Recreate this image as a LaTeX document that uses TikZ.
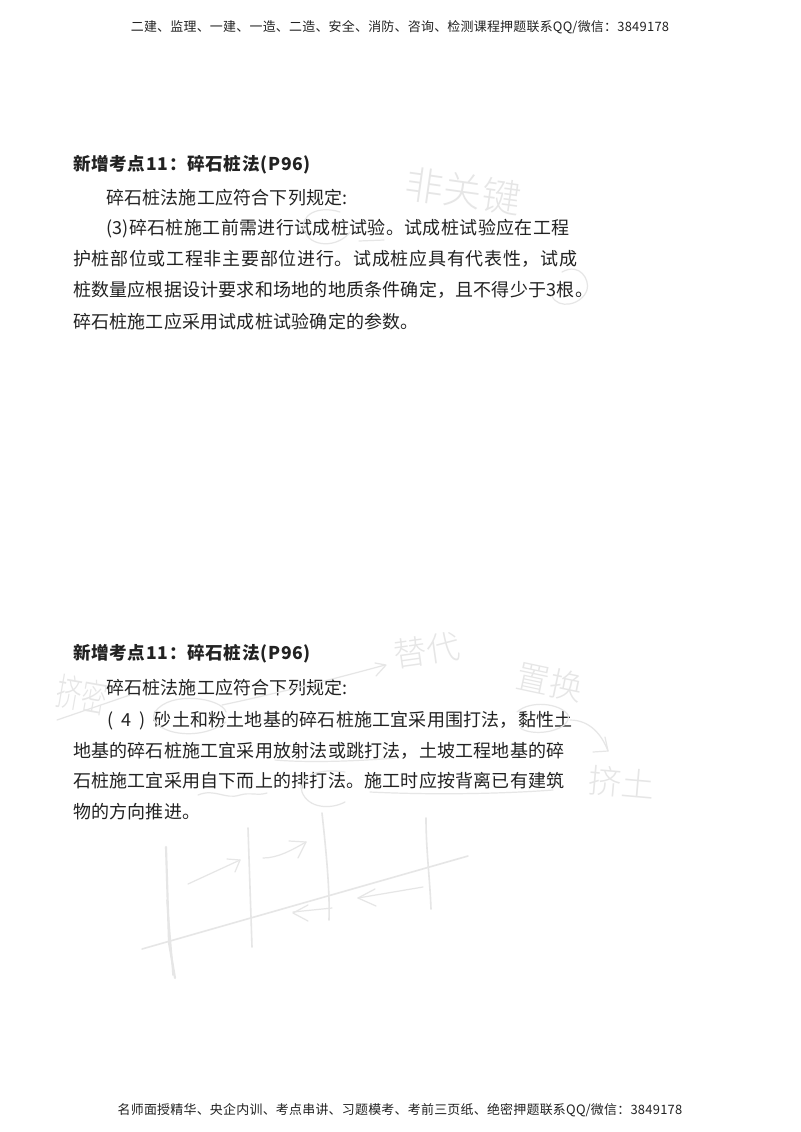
\documentclass[tikz,border=0pt]{standalone}
\usepackage{fontspec}
\setmainfont{Noto Sans CJK SC}
\newfontfamily\bodyfont[LetterSpace=1.2]{Noto Sans CJK SC}
\newfontfamily\midfont[LetterSpace=2]{Noto Sans CJK SC}
\newfontfamily\widefont[LetterSpace=3.9]{Noto Sans CJK SC}
\newfontfamily\headfont[LetterSpace=4]{Noto Sans CJK SC}
\newfontfamily\stripfont[LetterSpace=2]{Noto Sans CJK SC}
\newfontfamily\handfont{Noto Sans CJK SC Light}
\definecolor{ink}{HTML}{222222}
\definecolor{pale}{HTML}{E6E6E6}
\tikzset{
  x=0.75pt,y=-0.75pt,
  line/.style={anchor=base west,inner sep=0pt,outer sep=0pt,text=ink,font=\bodyfont\fontsize{13.5pt}{15pt}\selectfont},
  midline/.style={anchor=base west,inner sep=0pt,outer sep=0pt,text=ink,font=\midfont\fontsize{13.5pt}{15pt}\selectfont},
  wideline/.style={anchor=base west,inner sep=0pt,outer sep=0pt,text=ink,font=\widefont\fontsize{13.5pt}{15pt}\selectfont},
  heading/.style={anchor=base west,inner sep=0pt,outer sep=0pt,text=ink,font=\headfont\bfseries\fontsize{13.2pt}{15pt}\selectfont},
  strip/.style={anchor=base,inner sep=0pt,outer sep=0pt,text=ink,font=\stripfont\fontsize{9.7pt}{11pt}\selectfont},
  handtext/.style={inner sep=0pt,outer sep=0pt,text=pale,font=\handfont\fontsize{25pt}{27pt}\selectfont},
  ink stroke/.style={draw=pale,line width=0.9pt,line cap=round,line join=round},
  pole/.style={draw=pale,line width=1.2pt,line cap=round,line join=round},
}
\begin{document}
\begin{tikzpicture}
\useasboundingbox (0,0) rectangle (800,1132);
\fill[white] (0,0) rectangle (800,1132);
% header / footer
\node[strip] (hd) at (400,31) {二建、监理、一建、一造、二造、安全、消防、咨询、检测课程押题联系QQ/微信：3849178};
\node[strip] (ft) at (400,1114) {名师面授精华、央企内训、考点串讲、习题模考、考前三页纸、绝密押题联系QQ/微信：3849178};
% first block
\node[heading] (t1) at (73,170) {新增考点11：碎石桩法(P96)};
\node[line] (a1) at (106,204) {碎石桩法施工应符合下列规定:};
\node[midline] (a2) at (106,234) {(3)碎石桩施工前需进行试成桩试验。试成桩试验应在工程};
\node[wideline] (a3) at (73,265) {护桩部位或工程非主要部位进行。试成桩应具有代表性，试成};
\node[line] (a4) at (73,296) {桩数量应根据设计要求和场地的地质条件确定，且不得少于3根。};
\node[line] (a5) at (73,328) {碎石桩施工应采用试成桩试验确定的参数。};
% second block
\node[heading] (t2) at (73,659) {新增考点11：碎石桩法(P96)};
\node[line] (b1) at (106,694) {碎石桩法施工应符合下列规定:};
\node[line] (b2) at (107,726) {(\hspace{3pt} 4 \hspace{3pt}) \hspace{3pt}砂土和粉土地基的碎石桩施工宜采用围打法，黏性土};
\node[line] (b3) at (73,757) {地基的碎石桩施工宜采用放射法或跳打法，土坡工程地基的碎};
\node[line] (b4) at (73,787) {石桩施工宜采用自下而上的排打法。施工时应按背离已有建筑};
\node[line] (b5) at (73,818) {物的方向推进。};
% handwritten words
\node[handtext,rotate=-8,font=\handfont\fontsize{29pt}{31pt}\selectfont] (h1) at (463,191) {非关键};
\node[handtext,rotate=8] (h2) at (427,650) {替代};
\node[handtext,rotate=-12] (h3) at (550,682) {置换};
\node[handtext,rotate=-5] (h4) at (622,783) {挤土};
\node[handtext,rotate=-10,yscale=1.5,font=\handfont\fontsize{19pt}{21pt}\selectfont] (h5) at (82,695) {挤密};
% marks, first block
\draw[ink stroke] (340,212) .. controls (318,205) and (300,215) .. (304,230) .. controls (310,248) and (338,248) .. (350,232);
\draw[ink stroke] (359,241) -- (384,240);
\draw[ink stroke] (562,272) .. controls (580,262) and (590,280) .. (587,290) .. controls (582,305) and (558,310) .. (552,296);
% marks, second block
\draw[ink stroke] (57,720) -- (130,695);
\draw[ink stroke] (226,712) .. controls (222,698) and (170,690) .. (155,712) .. controls (145,730) and (195,745) .. (226,722);
\draw[ink stroke] (222,705) .. controls (270,695) and (330,680) .. (385,665);
\draw[ink stroke] (375,663) -- (386,665) -- (376,676);
\draw[ink stroke] (517,712) .. controls (530,700) and (560,703) .. (568,715) .. controls (572,730) and (535,738) .. (520,728);
\draw[ink stroke] (570,720) .. controls (590,720) and (602,735) .. (608,751);
\draw[ink stroke] (605,737) -- (608,751) -- (593,752);
\draw[ink stroke] (275,760) .. controls (310,763) and (360,761) .. (395,758);
\draw[ink stroke] (198,795) .. controls (215,788) and (225,800) .. (240,795) .. controls (250,792) and (258,796) .. (267,793);
\draw[ink stroke] (345,772) .. controls (320,768) and (298,775) .. (302,792) .. controls (308,808) and (330,810) .. (345,802);
\draw[ink stroke] (370,792) .. controls (430,795) and (500,794) .. (553,790);
% pile layout sketch
\draw[pole] (142,949) -- (468,856);
\draw[pole,line width=1.6pt] (166,847) -- (169,943) -- (175,978);
\draw[pole,line width=1.2pt] (167,900) -- (172,960) -- (173,975);
\draw[pole] (248,828) -- (252,947);
\draw[pole] (322,813) .. controls (326,850) and (330,890) .. (329,920);
\draw[pole] (426,818) .. controls (426,850) and (430,880) .. (431,909);
\draw[ink stroke] (188,884) -- (240,860);
\draw[ink stroke] (227,859) -- (240,860) -- (235,872);
\draw[ink stroke] (263,858) .. controls (278,858) and (292,850) .. (306,842);
\draw[ink stroke] (289,841) -- (306,842) -- (298,858);
\draw[ink stroke] (423,887) -- (358,898);
\draw[ink stroke] (375,889) -- (358,898) -- (376,906);
\draw[ink stroke] (332,908) -- (293,912);
\draw[ink stroke] (308,905) -- (293,913) -- (308,921);
\end{tikzpicture}
\end{document}
